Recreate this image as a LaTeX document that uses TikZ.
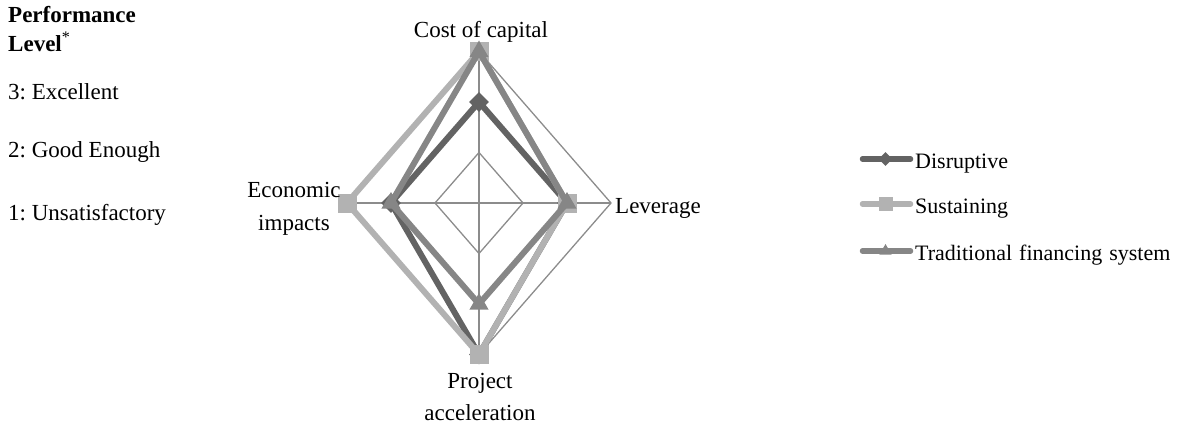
\documentclass[tikz,border=0pt]{standalone}
\usepackage{fontspec}
\setmainfont{Liberation Serif}
\frenchspacing
\usetikzlibrary{positioning,shapes.geometric}

\definecolor{disgray}{HTML}{636363}
\definecolor{susgray}{HTML}{B2B2B2}
\definecolor{tradgray}{HTML}{868686}
\definecolor{gridgray}{HTML}{8C8C8C}

\tikzset{
 serie/.style={line width=6pt, line join=round},
 gridline/.style={gridgray, line width=1.3pt},
 lbl/.style={font=\fontsize{23}{27}\selectfont, inner sep=0pt},
 keylbl/.style={font=\fontsize{22}{26}\selectfont, inner sep=0pt},
 dismark/.style={diamond, fill=disgray, inner sep=0pt, minimum size=20pt},
 susmark/.style={rectangle, fill=susgray, inner sep=0pt, minimum size=19pt},
 tradmark/.style={regular polygon, regular polygon sides=3, fill=tradgray, inner sep=0pt, minimum size=22pt},
}

\begin{document}
\begin{tikzpicture}[x=1pt,y=1pt]
 \useasboundingbox (0,0) rectangle (1177,429);
 \coordinate (center) at (479,226);

 %Grid
 \begin{scope}[shift={(center)}, x=44pt, y=50.5pt]
  \foreach \r in {1,2,3}
   \draw[gridline] (0,\r) -- (\r,0) -- (0,-\r) -- (-\r,0) -- cycle;

  \coordinate (top) at (0,3);
  \coordinate (right) at (3,0);
  \coordinate (bottom) at (0,-3);
  \coordinate (left) at (-3,0);
  \foreach \ax in {top,right,bottom,left}
   \draw[gridline] (center) -- (\ax);

 %Series: cost, leverage, project, economic
  \foreach \name/\c/\r/\b/\l in {dis/2/2/3/2, sus/3/2/3/3, trad/3/2/2/2} {
   \coordinate (\name1) at (0,\c);
   \coordinate (\name2) at (\r,0);
   \coordinate (\name3) at (0,-\b);
   \coordinate (\name4) at (-\l,0);
   \draw[serie, \name gray] (\name1) -- (\name2) -- (\name3) -- (\name4) -- cycle;
   \foreach \i in {1,...,4}
    \node[\name mark] (\name m\i) at (\name\i) {};
  }
 \end{scope}

 %Axis labels
 \node[lbl, anchor=base] (costlbl) at (481,391) {Cost of capital};
 \node[lbl, anchor=base west] (levlbl) at (615,216) {Leverage};
 \node[lbl, anchor=base] (ecolbl) at (294,232) {Economic};
 \node[lbl, anchor=base] (implbl) at ([yshift=-33pt]ecolbl.base) {impacts};
 \node[lbl, anchor=base] (prolbl) at (480,41) {Project};
 \node[lbl, anchor=base] (acclbl) at ([yshift=-32pt]prolbl.base) {acceleration};

 %Performance levels
 \node[lbl, anchor=base west] (perf) at (8,406) {\textbf{Performance}};
 \node[lbl, anchor=base west] (level) at (8,377) {\textbf{Level}\textsuperscript{*}};
 \node[lbl, anchor=base west] (lvthree) at (8,329) {3: Excellent};
 \node[lbl, anchor=base west] (lvtwo) at (8,271) {2: Good Enough};
 \node[lbl, anchor=base west] (lvone) at (8,209) {1: Unsatisfactory};

 %Legend
 \foreach \name/\txt/\y in {dis/Disruptive/270, sus/Sustaining/225, trad/Traditional\hspace{7pt}financing\hspace{7pt}system/178} {
  \coordinate (\name a) at (862.5,\y);
  \coordinate (\name b) at (910.5,\y);
  \draw[\name gray, line width=5.5pt, line cap=round] (\name a) -- (\name b);
  \node[\name mark, minimum size=14pt] (\name key) at (885.5,\y) {};
  \node[keylbl, anchor=base west] (\name txt) at (915,\y-9) {\txt};
 }
\end{tikzpicture}
\end{document}
